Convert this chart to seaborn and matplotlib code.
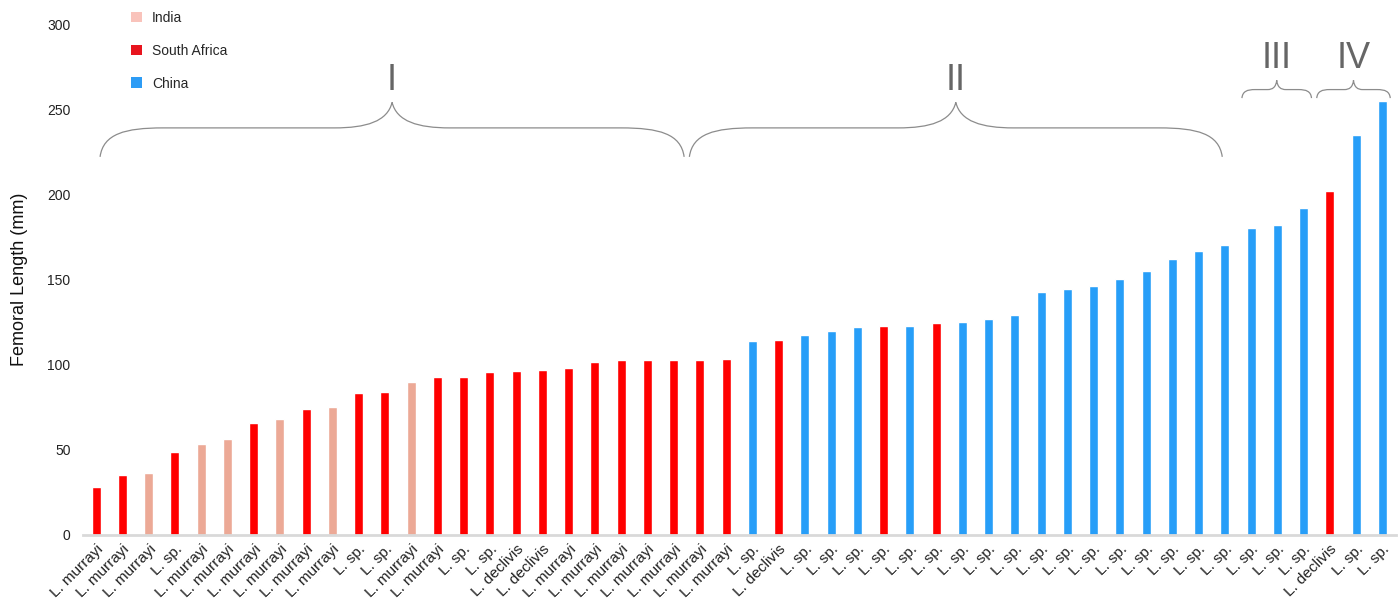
import numpy as np
import pandas as pd
import matplotlib
matplotlib.use('Agg')
import matplotlib.pyplot as plt
from matplotlib.path import Path
from matplotlib.patches import PathPatch, Patch
import seaborn as sns

# ==============================
# 1. Data
# ==============================
species = [
    'L. murrayi', 'L. murrayi', 'L. murrayi', 'L. sp.', 'L. murrayi',
    'L. murrayi', 'L. murrayi', 'L. murrayi', 'L. murrayi', 'L. murrayi',
    'L. sp.', 'L. sp.', 'L. murrayi', 'L. murrayi', 'L. sp.',
    'L. sp.', 'L. declivis', 'L. declivis', 'L. murrayi', 'L. murrayi',
    'L. murrayi', 'L. murrayi', 'L. murrayi', 'L. murrayi', 'L. murrayi',
    'L. sp.', 'L. declivis', 'L. sp.', 'L. sp.', 'L. sp.',
    'L. sp.', 'L. sp.', 'L. sp.', 'L. sp.', 'L. sp.',
    'L. sp.', 'L. sp.', 'L. sp.', 'L. sp.', 'L. sp.',
    'L. sp.', 'L. sp.', 'L. sp.', 'L. sp.', 'L. sp.',
    'L. sp.', 'L. sp.', 'L. declivis', 'L. sp.', 'L. sp.',
]

country = [
    'South Africa', 'South Africa', 'India', 'South Africa', 'India',
    'India', 'South Africa', 'India', 'South Africa', 'India',
    'South Africa', 'South Africa', 'India', 'South Africa', 'South Africa',
    'South Africa', 'South Africa', 'South Africa', 'South Africa', 'South Africa',
    'South Africa', 'South Africa', 'South Africa', 'South Africa', 'South Africa',
    'China', 'South Africa', 'China', 'China', 'China',
    'South Africa', 'China', 'South Africa', 'China', 'China',
    'China', 'China', 'China', 'China', 'China',
    'China', 'China', 'China', 'China', 'China',
    'China', 'China', 'South Africa', 'China', 'China',
]

femoral_length = [
    28, 35, 36.5, 49, 53.5, 56.5, 66, 68, 74, 75,
    83.5, 84, 90, 92.5, 92.5, 95.5, 96, 97, 98, 101.5,
    102.5, 102.5, 103, 103, 103.5, 114, 114.5, 117.5, 119.5, 122,
    122.5, 122.5, 124.5, 125, 127, 129, 142.5, 144.5, 146, 150.5,
    155, 162, 167, 170, 180, 182, 192, 202, 235, 255,
]

# size-class groups: label and the span of the brace (in bar positions)
group_labels = ['I', 'II', 'III', 'IV']
group_start = [0.15, 22.6, 43.65, 46.5]
group_end = [22.4, 42.9, 46.3, 49.3]

bar_colors = {'India': '#eca996', 'South Africa': '#ff0000', 'China': '#279ef8'}
legend_colors = {'India': '#f9c3bb', 'South Africa': '#e8141e', 'China': '#2d9cf5'}

df = pd.DataFrame({'idx': np.arange(len(species)), 'species': species,
                   'country': country, 'length': femoral_length})

# ==============================
# 2. Figure
# ==============================
sns.set_style('white')
plt.rcParams['font.family'] = ['Liberation Sans', 'DejaVu Sans']

fig = plt.figure(figsize=(13.99, 6.0), dpi=100)
ax = fig.add_axes([83 / 1399, 1 - 535 / 600, (1395.5 - 83) / 1399, (535 - 24) / 600])

sns.barplot(data=df, x='idx', y='length', hue='country', palette=bar_colors,
            dodge=False, width=0.34, legend=False, ax=ax, saturation=1)

ax.set_xlim(-0.5, len(species) - 0.5)
ax.set_ylim(0, 300)
ax.set_yticks([0, 50, 100, 150, 200, 250, 300])
ax.set_xticks(df['idx'])
ax.set_xticklabels(species, rotation=45, ha='right', rotation_mode='anchor',
                   fontsize=11, color='#222222')
ax.tick_params(axis='x', length=0, pad=5)
ax.tick_params(axis='y', length=0, pad=9, labelsize=10, labelcolor='#222222')
for side in ['top', 'right', 'left']:
    ax.spines[side].set_visible(False)
ax.spines['bottom'].set_color('#d9d9d9')
ax.spines['bottom'].set_linewidth(2)
ax.set_xlabel('')
ax.set_ylabel('Femoral Length (mm)', fontsize=13, color='#111111')
ax.yaxis.set_label_coords(-0.042, 0.5)


# ==============================
# 3. Curly braces for the groups
# ==============================
def brace(ax, x0, x1, y_end, y_flat, y_tip, c_end, c_tip):
    xm = (x0 + x1) / 2
    verts = [
        (x0, y_end),
        (x0 + 0.05 * c_end, y_end + 0.8 * (y_flat - y_end)), (x0 + 0.4 * c_end, y_flat), (x0 + c_end, y_flat),
        (xm - c_tip, y_flat),
        (xm - 0.45 * c_tip, y_flat), (xm - 0.08 * c_tip, y_flat + 0.25 * (y_tip - y_flat)), (xm, y_tip),
        (xm + 0.08 * c_tip, y_flat + 0.25 * (y_tip - y_flat)), (xm + 0.45 * c_tip, y_flat), (xm + c_tip, y_flat),
        (x1 - c_end, y_flat),
        (x1 - 0.4 * c_end, y_flat), (x1 - 0.05 * c_end, y_end + 0.8 * (y_flat - y_end)), (x1, y_end),
    ]
    codes = ([Path.MOVETO] + [Path.CURVE4] * 3 + [Path.LINETO] + [Path.CURVE4] * 6
             + [Path.LINETO] + [Path.CURVE4] * 3)
    ax.add_patch(PathPatch(Path(verts, codes), facecolor='none', edgecolor='#8c8c8c',
                           lw=0.9, clip_on=False))
    return xm


for lab, x0, x1 in zip(group_labels, group_start, group_end):
    if x1 - x0 > 5:
        xm = brace(ax, x0, x1, 222, 239, 254, 2.4, 2.2)
        ax.text(xm, 267, lab, ha='center', va='center', fontsize=26, color='#666666')
    else:
        xm = brace(ax, x0, x1, 256.5, 261.5, 267, 0.5, 0.35)
        ax.text(xm, 280, lab, ha='center', va='center', fontsize=26, color='#666666')

# ==============================
# 4. Legend
# ==============================
handles = [Patch(facecolor=legend_colors[c], edgecolor='none', label=c)
           for c in ['India', 'South Africa', 'China']]
fig.legend(handles=handles, loc='upper left', bbox_to_anchor=(131 / 1399, 1 - 11 / 600),
           bbox_transform=fig.transFigure, frameon=False, fontsize=10,
           handlelength=0.8, handleheight=0.8, handletextpad=0.7,
           labelspacing=1.35, borderpad=0, borderaxespad=0)

fig.savefig('out.png', dpi=100)
plt.close(fig)
